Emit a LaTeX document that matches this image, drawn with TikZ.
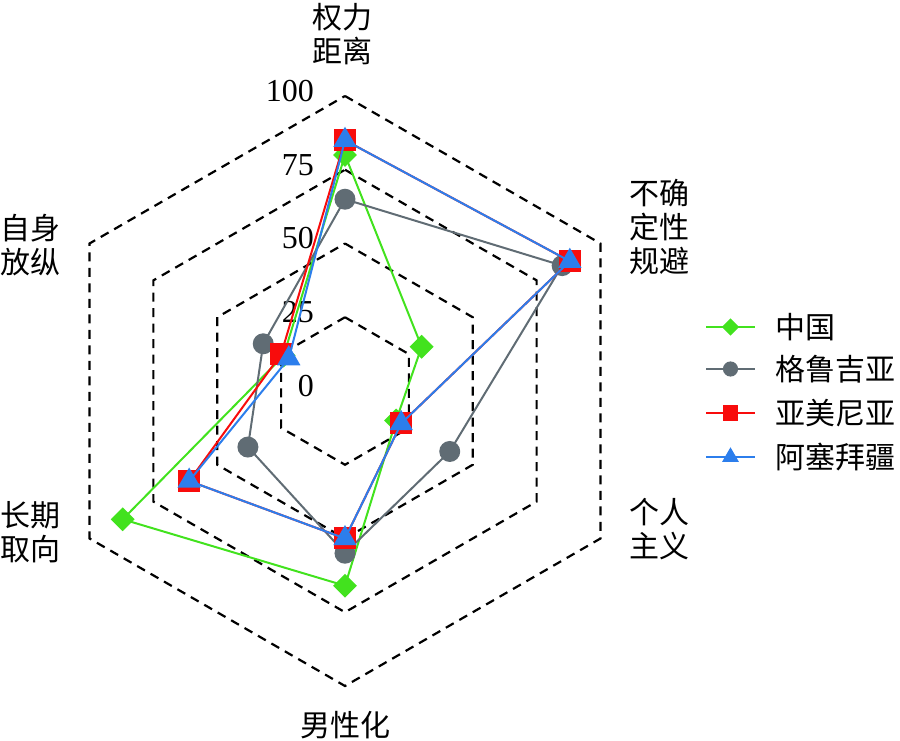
\documentclass[tikz,border=0pt]{standalone}
\usepackage{fontspec}
\setmainfont{Liberation Serif}
\newfontfamily\cjk{Noto Sans CJK SC}
\usepackage{tikz}
\usetikzlibrary{shapes.geometric}
\usetikzlibrary{calc}

\definecolor{cngreen}{RGB}{66,226,30}
\definecolor{gegray}{RGB}{96,108,116}
\definecolor{amred}{RGB}{248,12,12}
\definecolor{azblue}{RGB}{44,126,236}

\begin{document}
\begin{tikzpicture}[x=2.95pt,y=2.95pt,
	grid/.style={dash pattern=on 9pt off 6.5pt,line width=2.2pt},
	series/.style={line width=2pt,line join=round},
	mksq/.style={rectangle,minimum size=22pt,inner sep=0pt},
	mkcirc/.style={circle,minimum size=21pt,inner sep=0pt},
	mkdia/.style={diamond,minimum size=24pt,inner sep=0pt},
	mktri/.style={regular polygon,regular polygon sides=3,minimum size=27pt,inner sep=0pt},
	lab/.style={font=\cjk\fontsize{30}{34}\selectfont,align=center,inner sep=0pt},
	tick/.style={font=\fontsize{32}{34}\selectfont,anchor=east,inner sep=0pt}]
	\useasboundingbox (-345pt,-350pt) rectangle (555pt,391pt);
	
	\foreach \r in {25,50,75,100}
		\draw[grid] (90:\r) -- (30:\r) -- (-30:\r) -- (-90:\r) -- (210:\r) -- (150:\r) -- cycle;
	\foreach \v in {0,25,50,75,100}
		\node[tick] (t\v) at (-10.5,\v+1.7) {\v};
	
	\node[lab] (pdi) at (-2pt,357pt) {权力\\距离};
	\node[lab] (uai) at (314pt,164pt) {不确\\定性\\规避};
	\node[lab] (idv) at (314pt,-138pt) {个人\\主义};
	\node[lab] (mas) at (1pt,-334pt) {男性化};
	\node[lab] (lto) at (-314pt,-141pt) {长期\\取向};
	\node[lab] (ivr) at (-314pt,146pt) {自身\\放纵};
	
	% values: PDI, UAI, IDV, MAS, LTO, IVR
	\foreach \s/\c/\m/\vals in {
		cn/cngreen/mkdia/{80,30,20,66,87,24},
		ge/gegray/mkcirc/{65,85,41,55,38,32},
		am/amred/mksq/{85,88,22,50,61,25},
		az/azblue/mktri/{85,88,22,50,61,22}}
	{
		\foreach \v [count=\i] in \vals
			\coordinate (\s-\i) at ({150-60*\i}:\v);
		\draw[series,\c] (\s-1) -- (\s-2) -- (\s-3) -- (\s-4) -- (\s-5) -- (\s-6) -- cycle;
		\foreach \i in {1,...,6}
			\node[\m,fill=\c] (\s-m\i) at (\s-\i) {};
	}
	
	\foreach \s/\c/\m/\name/\y in {
		cn/cngreen/mkdia/中国/64,
		ge/gegray/mkcirc/格鲁吉亚/22,
		am/amred/mksq/亚美尼亚/-22,
		az/azblue/mktri/阿塞拜疆/-66}
	{
		\coordinate (lg-\s-a) at (361pt,\y pt);
		\coordinate (lg-\s-b) at (410pt,\y pt);
		\draw[series,\c] (lg-\s-a) -- (lg-\s-b);
		\node[\m,fill=\c,scale=0.72] (lg-\s-m) at ($(lg-\s-a)!0.5!(lg-\s-b)$) {};
		\node[lab,anchor=west] (lg-\s) at (430pt,\y pt) {\name};
	}
\end{tikzpicture}
\end{document}
